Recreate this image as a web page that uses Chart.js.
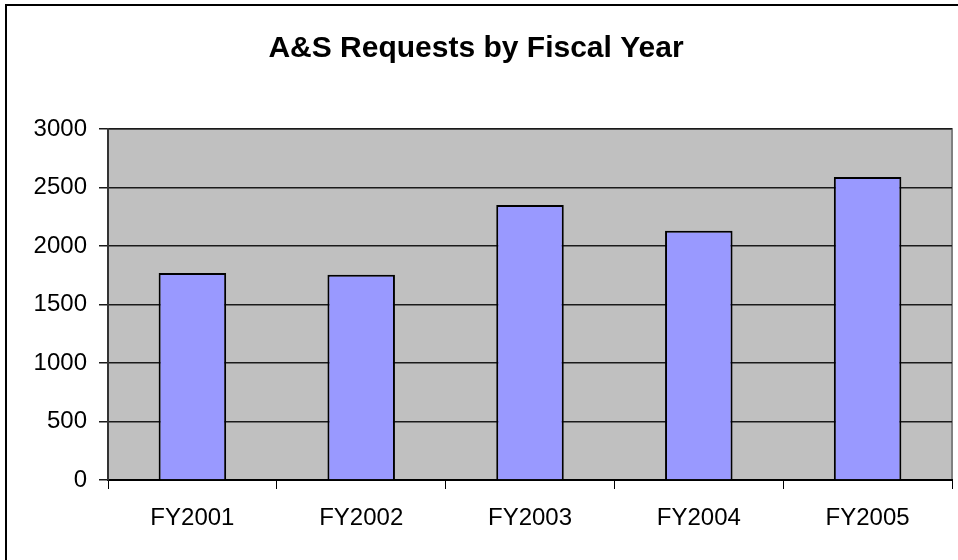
<!DOCTYPE html>
<html>
<head>
<meta charset="utf-8">
<script src="https://cdn.jsdelivr.net/npm/chart.js@4/dist/chart.umd.min.js"></script>
<style>
  html, body { margin: 0; padding: 0; background: #fff; }
  #wrap { width: 958px; height: 560px; }
</style>
</head>
<body>
<div id="wrap"><canvas id="requestsChart" width="958" height="560"></canvas></div>
<script>
// chart data
const years = ["FY2001", "FY2002", "FY2003", "FY2004", "FY2005"];
const requests = [1770, 1755, 2350, 2130, 2590];
const yTicks = [0, 500, 1000, 1500, 2000, 2500, 3000];

const FONT = "'Liberation Sans', Arial, sans-serif";

// grey plot background + outer frame, like the old Excel look
const plotBackground = {
  id: "plotBackground",
  beforeDraw(chart) {
    const { ctx, chartArea: a } = chart;
    ctx.save();
    ctx.fillStyle = "#c0c0c0";
    ctx.fillRect(a.left, a.top, a.right - a.left, a.bottom - a.top);
    ctx.strokeStyle = "#808080";
    ctx.lineWidth = 2;
    ctx.beginPath();
    ctx.moveTo(a.left, a.top);
    ctx.lineTo(a.right, a.top);
    ctx.lineTo(a.right, a.bottom);
    ctx.stroke();
    ctx.restore();
  },
  afterDraw(chart) {
    const ctx = chart.ctx;
    ctx.save();
    ctx.strokeStyle = "#000";
    ctx.lineWidth = 2;
    ctx.strokeRect(6, 5, 1000, 1000);
    ctx.restore();
  }
};

new Chart(document.getElementById("requestsChart"), {
  type: "bar",
  data: {
    labels: years,
    datasets: [
      {
        label: "Requests",
        data: requests,
        backgroundColor: "#9999ff",
        borderColor: "#000",
        borderWidth: 2,
        categoryPercentage: 1,
        barPercentage: 0.4,
      },
    ],
  },
  options: {
    responsive: false,
    animation: false,
    devicePixelRatio: 1,
    layout: { padding: { left: 0, right: 6, top: 0, bottom: 0 } },
    plugins: {
      legend: { display: false },
      tooltip: { enabled: false },
      title: {
        display: true,
        text: "A&S Requests by Fiscal Year",
        color: "#000",
        font: { family: FONT, size: 30, weight: "bold" },
        padding: { top: 31, bottom: 62 },
      },
    },
    scales: {
      x: {
        afterFit: s => { s.height = 80; },
        grid: { drawOnChartArea: false, drawTicks: true, tickLength: 9, color: "#000", lineWidth: 1 },
        border: { color: "#000", width: 2 },
        ticks: { color: "#000", padding: 15, font: { family: FONT, size: 24 } },
      },
      y: {
        min: 0,
        max: 3000,
        afterFit: s => { s.width = 108; },
        afterBuildTicks: s => { s.ticks = yTicks.map(v => ({ value: v })); },
        grid: { color: "#1a1a1a", lineWidth: 1.5, tickLength: 9 },
        border: { color: "#333", width: 2 },
        ticks: {
          color: "#000",
          padding: 12,
          font: { family: FONT, size: 24 },
          callback: v => String(v),
        },
      },
    },
  },
  plugins: [plotBackground],
});
</script>
</body>
</html>
